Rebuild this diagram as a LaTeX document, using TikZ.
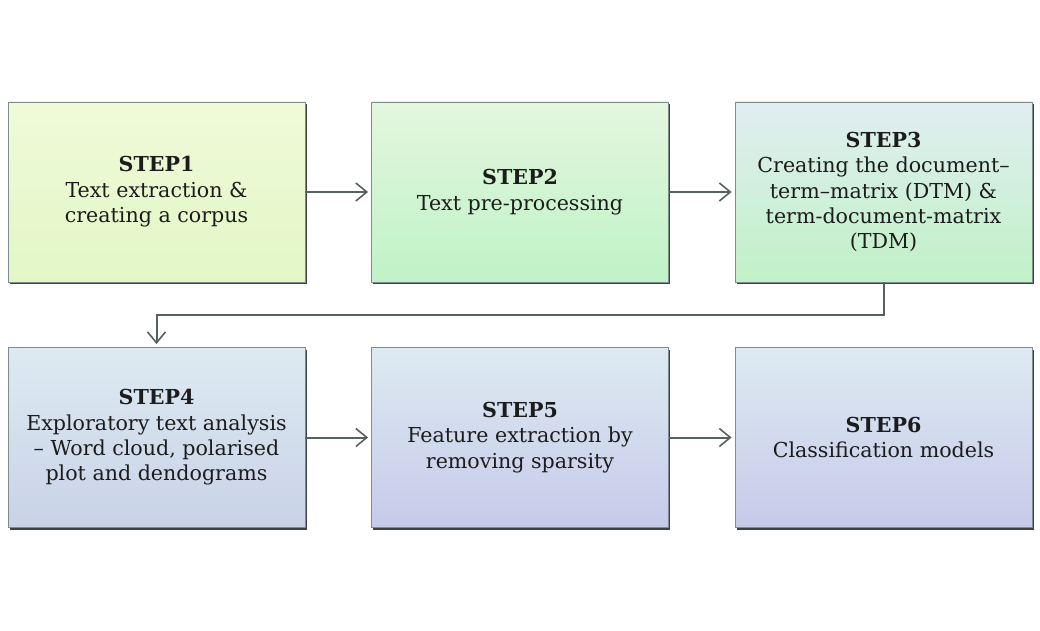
\documentclass[tikz,border=0pt]{standalone}
\usepackage{fontspec}
\setmainfont{DejaVu Serif}
\usetikzlibrary{arrows.meta,shadows}
\definecolor{bordc}{HTML}{7F8C8C}
\definecolor{shadc}{HTML}{3A4242}
\definecolor{linec}{HTML}{56625F}
\definecolor{txtc}{HTML}{1C1C1C}
\definecolor{aTop}{HTML}{F0FAD8}
\definecolor{aBot}{HTML}{E2F7C6}
\definecolor{bTop}{HTML}{E4F6DF}
\definecolor{bBot}{HTML}{BFF3C6}
\definecolor{cTop}{HTML}{E0EEF1}
\definecolor{cBot}{HTML}{C1F1C6}
\definecolor{dTop}{HTML}{DDEAF1}
\definecolor{dBot}{HTML}{C9D2E8}
\definecolor{eTop}{HTML}{DDEAF1}
\definecolor{eBot}{HTML}{C6CAEA}
\tikzset{
  stepbox/.style={draw=bordc, line width=0.8pt, minimum width=297pt, minimum height=180pt,
    inner sep=0pt, align=center, text=txtc,
    font=\fontsize{20.6}{25.4}\selectfont,
    drop shadow={shadow xshift=1.6pt, shadow yshift=-2.4pt, fill=shadc, opacity=1}},
  arr/.style={draw=linec, line width=2pt, -{Straight Barb[length=11pt,width=18pt,line width=1.6pt]}, shorten >=3pt}
}
\begin{document}
\begin{tikzpicture}[x=1pt,y=1pt]
\useasboundingbox[fill=white] (0,0) rectangle (1040,630);
\node[stepbox, top color=aTop, bottom color=aBot] (s1) at (156.5,438) {\textbf{STEP1}\\Text extraction \&\\creating a corpus};
\node[stepbox, top color=bTop, bottom color=bBot] (s2) at (520,438) {\textbf{STEP2}\\Text pre-processing};
\node[stepbox, top color=cTop, bottom color=cBot] (s3) at (883.5,438) {\textbf{STEP3}\\Creating the document–\\term–matrix (DTM) \&\\term-document-matrix\\(TDM)};
\node[stepbox, top color=dTop, bottom color=dBot] (s4) at (156.5,192.5) {\textbf{STEP4}\\Exploratory text analysis\\– Word cloud, polarised\\plot and dendograms};
\node[stepbox, top color=eTop, bottom color=eBot] (s5) at (520,192.5) {\textbf{STEP5}\\Feature extraction by\\removing sparsity};
\node[stepbox, top color=eTop, bottom color=eBot] (s6) at (883.5,192.5) {\textbf{STEP6}\\Classification models};
\draw[arr] (s1.east) -- (s2.west);
\draw[arr] (s2.east) -- (s3.west);
\draw[arr] (s4.east) -- (s5.west);
\draw[arr] (s5.east) -- (s6.west);
\draw[arr] (s3.south) -- ++(0,-33) -| (s4.north);
\end{tikzpicture}
\end{document}
